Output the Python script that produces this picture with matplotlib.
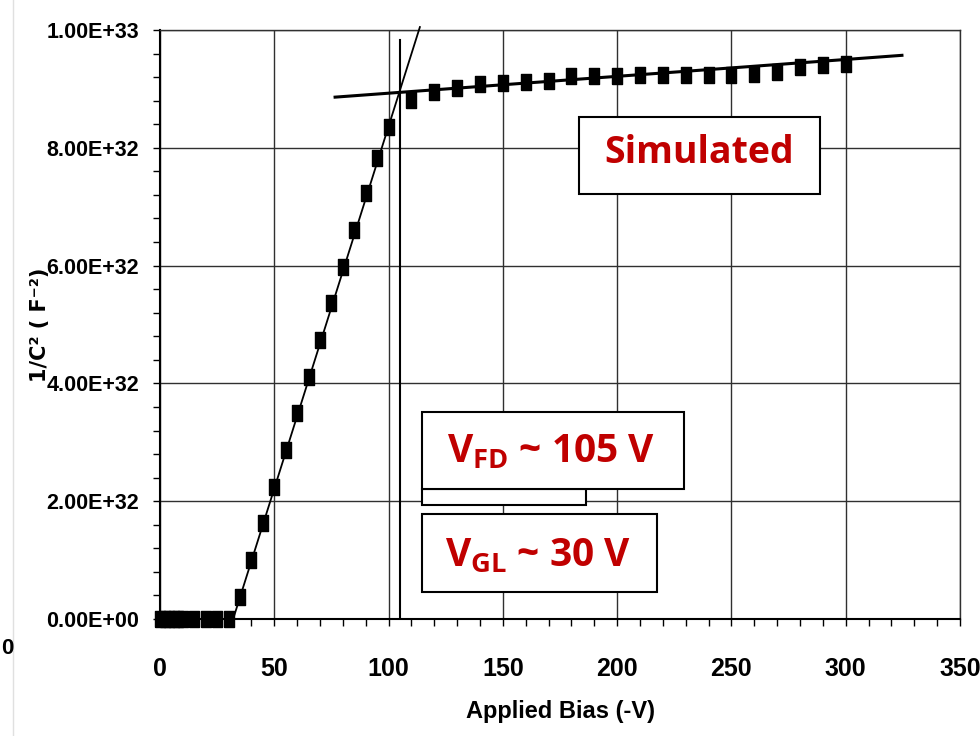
import matplotlib
matplotlib.use("Agg")
import matplotlib.pyplot as plt
import matplotlib.font_manager as fm
from matplotlib.patches import Rectangle
from matplotlib.lines import Line2D
from matplotlib.ticker import MultipleLocator, FuncFormatter

# 数据（纵轴单位 1e32 F^-2）
bias = [0, 2, 4, 6, 8, 10, 15, 20, 25, 30,
        35, 40, 45, 50, 55, 60, 65, 70, 75, 80, 85, 90, 95, 100,
        110, 120, 130, 140, 150, 160, 170, 180, 190, 200,
        210, 220, 230, 240, 250, 260, 270, 280, 290, 300]
inv_c2 = [0, 0, 0, 0, 0, 0, 0, 0, 0, 0,
          0.37, 1.00, 1.63, 2.24, 2.87, 3.50, 4.11, 4.74, 5.37, 5.98, 6.60, 7.23, 7.83, 8.35,
          8.81, 8.95, 9.01, 9.08, 9.10, 9.12, 9.13, 9.22, 9.22, 9.22,
          9.24, 9.24, 9.24, 9.24, 9.24, 9.26, 9.28, 9.38, 9.40, 9.42]

# 拟合直线
rise_x = [32, 113.7]
rise_y = [0, 10.05]
plateau_x = [76.6, 324.6]
plateau_y = [8.86, 9.57]
vfd_x = [105, 105]
vfd_y = [0, 9.83]

scale = 1e32
names = {f.name for f in fm.fontManager.ttflist}
narrow = "Liberation Sans Narrow" if "Liberation Sans Narrow" in names else "Liberation Sans"
red = "#C00000"

fig = plt.figure(figsize=(9.8, 7.36), dpi=100)
ax = fig.add_axes([160 / 980, 117 / 736, 800 / 980, 589 / 736])

ax.plot(rise_x, [v * scale for v in rise_y], color="black", lw=1.3, clip_on=False, zorder=3)
ax.plot(plateau_x, [v * scale for v in plateau_y], color="black", lw=2.2, zorder=3)
ax.plot(vfd_x, [v * scale for v in vfd_y], color="black", lw=1.5, zorder=3)

rect_marker = [(-0.34, -0.5), (0.34, -0.5), (0.34, 0.5), (-0.34, 0.5), (-0.34, -0.5)]
ax.plot(bias, [v * scale for v in inv_c2], linestyle="none", marker=rect_marker,
        markersize=11.5, color="black", clip_on=False, zorder=4)

ax.set_xlim(0, 350)
ax.set_ylim(0, 1e33)
ax.xaxis.set_major_locator(MultipleLocator(50))
ax.xaxis.set_minor_locator(MultipleLocator(10))
ax.yaxis.set_major_locator(MultipleLocator(2e32))
ax.yaxis.set_minor_locator(MultipleLocator(4e31))
ax.yaxis.set_major_formatter(FuncFormatter(lambda v, p: f"{v:.2E}"))

ax.grid(True, which="major", color="#303030", lw=1.0, zorder=0)
ax.set_axisbelow(True)
for s in ["top", "right"]:
    ax.spines[s].set_color("#303030")
    ax.spines[s].set_linewidth(1.0)
for s in ["left", "bottom"]:
    ax.spines[s].set_color("black")
    ax.spines[s].set_linewidth(1.5)

ax.tick_params(which="both", direction="out", length=5, width=1.0, color="black")
ax.tick_params(axis="x", which="major", pad=22)
ax.tick_params(axis="y", which="major", pad=10)
for lab in ax.get_xticklabels():
    lab.set_fontfamily(narrow)
    lab.set_fontweight("bold")
    lab.set_fontsize(18)
for lab in ax.get_yticklabels():
    lab.set_fontfamily(narrow)
    lab.set_fontweight("bold")
    lab.set_fontsize(15.5)

ax.set_xlabel("Applied Bias (-V)", fontfamily=narrow, fontweight="bold", fontsize=17, labelpad=14)
ax.set_ylabel("1/C² ( F⁻²)", fontfamily="DejaVu Sans", fontweight="bold", fontsize=15)
ax.yaxis.set_label_coords(-0.137, 0.5)

# 文字框（坐标轴比例）
boxes = [
    (0.524, 0.7216, 0.301, 0.1304),   # Simulated
    (0.3275, 0.1935, 0.2045, 0.0272), # 被遮住的框
    (0.327, 0.2207, 0.328, 0.1313),   # V_FD
    (0.327, 0.0458, 0.2943, 0.1325),  # V_GL
]
for x0, y0, w, h in boxes:
    ax.add_patch(Rectangle((x0, y0), w, h, transform=ax.transAxes, facecolor="white",
                           edgecolor="black", lw=1.5, zorder=5))

ax.text(0.6735, 0.792, "Simulated", transform=ax.transAxes, ha="center", va="center",
        fontfamily="Open Sans", fontweight="bold", fontsize=27, color=red, zorder=6)
ax.text(0.4885, 0.283, r"V$_{\mathregular{FD}}$ ~ 105 V", transform=ax.transAxes,
        ha="center", va="center", fontfamily="Open Sans", fontweight="bold", fontsize=28,
        color=red, zorder=6)
ax.text(0.4725, 0.106, r"V$_{\mathregular{GL}}$ ~ 30 V", transform=ax.transAxes,
        ha="center", va="center", fontfamily="Open Sans", fontweight="bold", fontsize=28,
        color=red, zorder=6)

# 左侧残留边线与左缘的 "0"
fig.add_artist(Line2D([13 / 980, 13 / 980], [0, 1], color="#e0e0e0", lw=1.0))
fig.text(0.001, 1 - 648 / 736, "0", ha="left", va="center", fontfamily=narrow,
         fontweight="bold", fontsize=16)

plt.savefig("out.png", dpi=100)
plt.close()
